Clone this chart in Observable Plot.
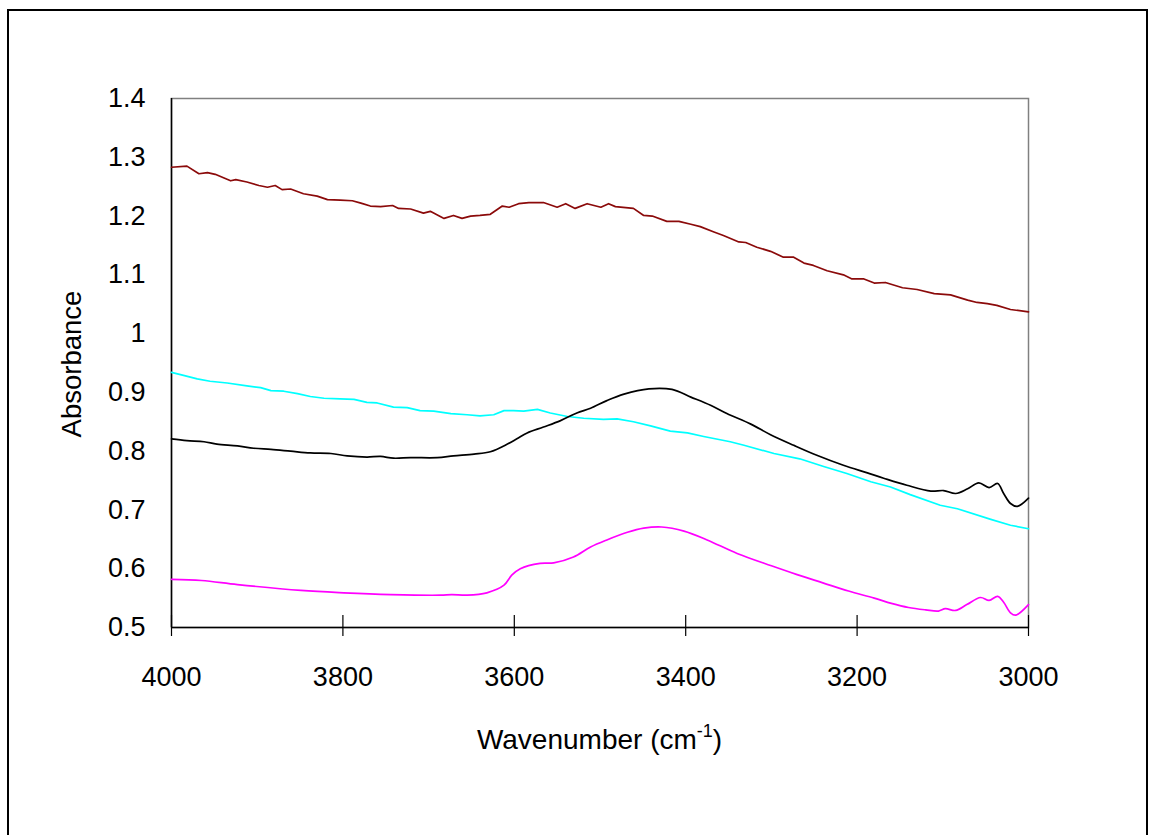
<!DOCTYPE html>
<html>
<head>
<meta charset="utf-8">
<script src="https://cdn.jsdelivr.net/npm/d3@7"></script>
<script src="https://cdn.jsdelivr.net/npm/@observablehq/plot@0.6"></script>
<style>
  html, body { margin: 0; padding: 0; background: #fff; overflow: hidden; }
  #wrap { position: relative; width: 1149px; height: 835px; }
  #border { position: absolute; left: 7px; top: 9px; width: 1141px; height: 900px; border: 2px solid #000; box-sizing: border-box; }
  #chart { position: absolute; left: 0; top: 0; }
</style>
</head>
<body>
<div id="wrap">
  <div id="border"></div>
  <div id="chart"></div>
</div>
<script>
// Tick values
const xTicks = [4000, 3800, 3600, 3400, 3200, 3000];
const yTicks = [0.5, 0.6, 0.7, 0.8, 0.9, 1.0, 1.1, 1.2, 1.3, 1.4];

// Series: [wavenumber (cm-1), absorbance]
const darkRedSeries = [
  [4000,1.283],[3982,1.285],[3968,1.272],[3958,1.274],[3949,1.271],[3931,1.260],[3925,1.262],
  [3912,1.258],[3898,1.252],[3888,1.249],[3879,1.252],[3871,1.245],[3861,1.246],[3846,1.238],
  [3830,1.234],[3818,1.228],[3803,1.227],[3789,1.226],[3779,1.222],[3768,1.217],[3756,1.216],
  [3742,1.218],[3735,1.213],[3721,1.212],[3706,1.205],[3698,1.208],[3682,1.196],[3671,1.201],
  [3661,1.196],[3651,1.200],[3640,1.201],[3628,1.203],[3614,1.217],[3606,1.215],[3595,1.221],
  [3583,1.223],[3566,1.223],[3550,1.215],[3540,1.221],[3529,1.213],[3515,1.221],[3499,1.215],
  [3490,1.221],[3482,1.216],[3461,1.213],[3449,1.201],[3439,1.200],[3422,1.191],[3408,1.191],
  [3394,1.186],[3383,1.182],[3367,1.173],[3356,1.167],[3338,1.156],[3330,1.155],[3317,1.147],
  [3301,1.140],[3286,1.130],[3274,1.130],[3262,1.120],[3251,1.116],[3235,1.107],[3216,1.100],
  [3206,1.093],[3192,1.093],[3180,1.086],[3167,1.087],[3147,1.078],[3130,1.075],[3110,1.068],
  [3091,1.066],[3071,1.057],[3060,1.053],[3048,1.051],[3037,1.048],[3021,1.041],[3000,1.037]
];
const cyanSeries = [
  [4000,0.934],[3986,0.929],[3970,0.923],[3955,0.919],[3935,0.916],[3912,0.911],[3896,0.908],
  [3884,0.903],[3869,0.902],[3853,0.898],[3838,0.893],[3822,0.890],[3803,0.889],[3787,0.888],
  [3772,0.883],[3760,0.882],[3741,0.875],[3725,0.874],[3710,0.869],[3694,0.868],[3674,0.864],
  [3655,0.862],[3640,0.860],[3624,0.862],[3612,0.869],[3601,0.869],[3589,0.868],[3573,0.871],
  [3558,0.865],[3538,0.859],[3519,0.856],[3496,0.854],[3480,0.855],[3461,0.850],[3441,0.843],
  [3418,0.834],[3398,0.831],[3379,0.825],[3348,0.816],[3332,0.810],[3297,0.796],[3267,0.787],
  [3239,0.774],[3212,0.762],[3184,0.748],[3161,0.739],[3138,0.726],[3103,0.708],[3083,0.702],
  [3044,0.684],[3021,0.674],[3000,0.668]
];
const blackSeries = [
  [4000,0.821],[3982,0.818],[3962,0.816],[3947,0.812],[3923,0.809],[3904,0.805],[3884,0.803],
  [3861,0.800],[3838,0.797],[3814,0.796],[3795,0.792],[3772,0.790],[3756,0.791],[3741,0.788],
  [3721,0.789],[3690,0.789],[3671,0.792],[3647,0.795],[3628,0.799],[3608,0.812],[3597,0.821],
  [3585,0.831],[3566,0.841],[3546,0.852],[3527,0.865],[3511,0.873],[3492,0.886],[3472,0.897],
  [3443,0.906],[3416,0.905],[3394,0.892],[3371,0.878],[3352,0.864],[3324,0.846],[3301,0.828],
  [3274,0.810],[3247,0.793],[3216,0.776],[3188,0.763],[3169,0.754],[3142,0.742],[3114,0.732],
  [3099,0.733],[3085,0.728],[3071,0.736],[3058,0.746],[3046,0.738],[3036,0.745],[3029,0.728],
  [3021,0.711],[3013,0.706],[3000,0.720]
];
const magentaSeries = [
  [4000,0.582],[3965,0.580],[3923,0.573],[3849,0.563],[3799,0.559],[3744,0.556],[3686,0.555],
  [3673,0.556],[3655,0.555],[3632,0.559],[3612,0.572],[3603,0.589],[3593,0.600],[3570,0.609],
  [3554,0.610],[3531,0.620],[3511,0.637],[3492,0.649],[3468,0.662],[3449,0.669],[3428,0.671],
  [3402,0.664],[3375,0.649],[3340,0.626],[3300,0.605],[3270,0.590],[3240,0.576],[3210,0.562],
  [3180,0.550],[3160,0.541],[3140,0.534],[3120,0.530],[3105,0.528],[3097,0.532],[3085,0.529],
  [3072,0.539],[3056,0.551],[3046,0.546],[3036,0.553],[3029,0.543],[3021,0.525],[3015,0.521],
  [3000,0.539]
];

const lineOpts = (color, curve) => ({ x: d => d[0], y: d => d[1], stroke: color, strokeWidth: 1.7, curve });

const chart = Plot.plot({
  width: 1149,
  height: 835,
  marginLeft: 171,
  marginRight: 121,
  marginTop: 98,
  marginBottom: 208,
  x: { domain: [4000, 3000] },
  y: { domain: [0.5, 1.4] },
  style: { fontFamily: "'Liberation Sans', Arial, sans-serif", fontSize: "27px", background: "transparent", color: "#000", overflow: "visible" },
  marks: [
    Plot.frame({ stroke: "#808080", strokeWidth: 1.5 }),
    Plot.ruleY([0.5], { stroke: "#000", strokeWidth: 1.5 }),
    Plot.ruleX([4000], { stroke: "#000", strokeWidth: 1.5 }),
    Plot.ruleX(xTicks, { stroke: "#000", strokeWidth: 1.2, insetTop: 517, insetBottom: -9 }),
    Plot.axisX(xTicks, { tickSize: 0, tickPadding: 39, label: null, fontSize: 27, tickFormat: d => String(d) }),
    Plot.axisY(yTicks, { tickSize: 0, tickPadding: 26, label: null, fontSize: 27, tickFormat: d => String(+d.toFixed(1)) }),
    Plot.line(darkRedSeries, lineOpts("#8b0a0a", "linear")),
    Plot.line(cyanSeries, lineOpts("#00ffff", "linear")),
    Plot.line(magentaSeries, lineOpts("#ff00ff", "catmull-rom")),
    Plot.line(blackSeries, lineOpts("#000000", "catmull-rom"))
  ]
});

document.getElementById("chart").appendChild(chart);

// Axis titles (with superscript)
const svg = d3.select(chart);
const xt = svg.append("text")
  .attr("x", 599.5).attr("y", 749)
  .attr("text-anchor", "middle")
  .attr("fill", "#000")
  .style("font-family", "'Liberation Sans', Arial, sans-serif")
  .style("font-size", "28px");
xt.append("tspan").text("Wavenumber (cm");
xt.append("tspan").attr("dy", -12).style("font-size", "18px").text("-1");
xt.append("tspan").attr("dy", 12).text(")");

svg.append("text")
  .attr("transform", "translate(81,364) rotate(-90)")
  .attr("text-anchor", "middle")
  .attr("fill", "#000")
  .style("font-family", "'Liberation Sans', Arial, sans-serif")
  .style("font-size", "27.5px")
  .text("Absorbance");
</script>
</body>
</html>
